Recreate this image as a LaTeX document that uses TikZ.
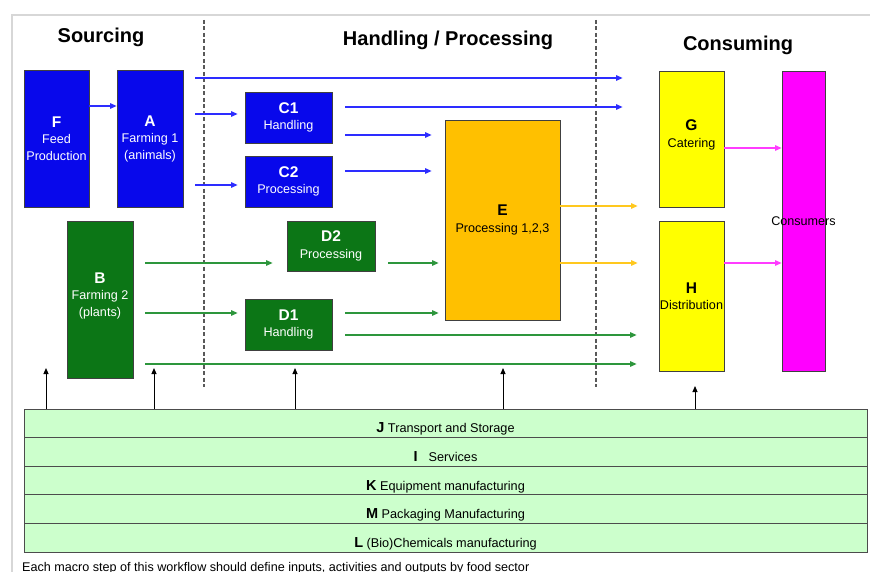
\documentclass[tikz,border=0pt]{standalone}
\usepackage{fontspec}
\setmainfont{Liberation Sans}
\usetikzlibrary{arrows.meta,calc}

\definecolor{boxblue}{RGB}{8,8,235}
\definecolor{boxgreen}{RGB}{12,118,22}
\definecolor{arrblue}{RGB}{45,45,255}
\definecolor{arrgreen}{RGB}{45,150,60}
\definecolor{procorange}{RGB}{255,192,0}
\definecolor{consyellow}{RGB}{255,255,0}
\definecolor{consmag}{RGB}{255,0,255}
\definecolor{arrmag}{RGB}{255,60,255}
\definecolor{arryellow}{RGB}{255,200,30}
\definecolor{bandgreen}{RGB}{204,255,204}
\definecolor{framegray}{RGB}{215,215,215}

\begin{document}
\begin{tikzpicture}[x=1pt,y=-1pt,
  stage/.style={draw=black!75, line width=0.8pt, inner sep=0pt, align=center,
    font=\fontsize{12.6}{16.5}\selectfont},
  bluebox/.style={stage, fill=boxblue, text=white},
  greenbox/.style={stage, fill=boxgreen, text=white},
  band/.style={draw=black!70, line width=0.8pt, fill=bandgreen, inner sep=0pt,
    minimum width=843, minimum height=28.6, text height=19pt, text depth=0pt,
    font=\fontsize{12.7}{12.7}\selectfont},
  title/.style={inner sep=0pt, font=\fontsize{20}{20}\selectfont\bfseries},
  flow/.style={line width=1.1pt, -{Triangle[length=6.5pt,width=5.5pt]}},
  bflow/.style={flow, draw=arrblue, fill=arrblue},
  gflow/.style={flow, draw=arrgreen, fill=arrgreen},
  yflow/.style={flow, draw=arryellow, fill=arryellow},
  mflow/.style={flow, draw=arrmag, fill=arrmag},
  kflow/.style={line width=1pt, draw=black, -{Triangle[length=6pt,width=5pt]}},
  phase/.style={draw=black!65, line width=1.2pt, dash pattern=on 4pt off 2.5pt}
]
\newcommand{\stagelabel}[1]{{\fontsize{15.5}{17}\selectfont\bfseries #1}}
\newcommand{\bandlabel}[1]{{\fontsize{14.5}{14.5}\selectfont\bfseries #1}}

% page and frame
\fill[white] (0,0) rectangle (870,572);
\useasboundingbox (0,0) rectangle (870,572);
\draw[framegray, line width=1.2pt] (12,572) -- (12,15) -- (870,15);

% phase titles
\node[title] (tsrc) at (101,37) {Sourcing};
\node[title] (thp)  at (448,40) {Handling / Processing};
\node[title] (tcon) at (738,45) {Consuming};

% phase separators
\coordinate (s1t) at (204,20);  \coordinate (s1b) at (204,387);
\coordinate (s2t) at (596,20);  \coordinate (s2b) at (596,387);
\draw[phase] (s1t) -- (s1b);
\draw[phase] (s2t) -- (s2b);

% sourcing
\node[bluebox, minimum width=65, minimum height=137] (F) at (56.5,138.5)
  {\stagelabel{F}\\Feed\\Production};
\node[bluebox, minimum width=66, minimum height=137] (A) at (150,138.5)
  {\stagelabel{A}\\Farming 1\\(animals)};
\node[greenbox, minimum width=66, minimum height=157] (B) at (100,299.5)
  {\stagelabel{B}\\Farming 2\\(plants)\\[-6pt]};

% handling / processing
\node[bluebox, minimum width=87, minimum height=51] (C1) at (288.5,117.5)
  {\stagelabel{C1}\\Handling};
\node[bluebox, minimum width=87, minimum height=51] (C2) at (288.5,181.5)
  {\stagelabel{C2}\\Processing};
\node[greenbox, minimum width=88, minimum height=50] (D2) at (331,246)
  {\stagelabel{D2}\\Processing};
\node[greenbox, minimum width=87, minimum height=51] (D1) at (288.5,324.5)
  {\stagelabel{D1}\\Handling};
\node[stage, fill=procorange, minimum width=115, minimum height=200] (E) at (502.5,220)
  {\stagelabel{E}\\Processing 1,2,3};

% consuming
\node[stage, fill=consyellow, minimum width=65, minimum height=136] (G) at (691.5,139)
  {\stagelabel{G}\\Catering\\[-6pt]};
\node[stage, fill=consyellow, minimum width=65, minimum height=150] (H) at (691.5,296)
  {\stagelabel{H}\\Distribution};
\node[stage, fill=consmag, minimum width=43, minimum height=300] (CO) at (803.5,221)
  {\makebox[0pt]{Consumers}};

% supporting sectors
\node[band] (J) at (445.5,423.3) {\bandlabel{J} Transport and Storage};
\node[band] (I) at (445.5,451.9) {\bandlabel{I}\hspace{11pt}Services};
\node[band] (K) at (445.5,480.5) {\bandlabel{K} Equipment manufacturing};
\node[band] (M) at (445.5,509.1) {\bandlabel{M} Packaging Manufacturing};
\node[band] (L) at (445.5,537.7) {\bandlabel{L} (Bio)Chemicals manufacturing};

\node[anchor=base west, inner sep=0pt, font=\fontsize{12.6}{12.6}\selectfont] (note) at (22,571)
  {Each macro step of this workflow should define inputs, activities and outputs by food sector};

% animal chain
\draw[bflow] (F.east |- 0,106) -- (A.west |- 0,106);
\draw[bflow] ([xshift=12pt]A.east |- 0,78) -- ([xshift=-36pt]G.west |- 0,78);
\draw[bflow] ([xshift=12pt]A.east |- 0,114) -- ([xshift=-7pt]C1.west |- 0,114);
\draw[bflow] ([xshift=12pt]A.east |- 0,185) -- ([xshift=-7pt]C2.west |- 0,185);
\draw[bflow] ([xshift=13pt]C1.east |- 0,107) -- ([xshift=-36pt]G.west |- 0,107);
\draw[bflow] ([xshift=13pt]C1.east |- 0,135) -- ([xshift=-13pt]E.west |- 0,135);
\draw[bflow] ([xshift=13pt]C2.east |- 0,171) -- ([xshift=-13pt]E.west |- 0,171);

% plant chain
\draw[gflow] ([xshift=12pt]B.east |- 0,263) -- ([xshift=-14pt]D2.west |- 0,263);
\draw[gflow] ([xshift=13pt]D2.east |- 0,263) -- ([xshift=-6pt]E.west |- 0,263);
\draw[gflow] ([xshift=12pt]B.east |- 0,313) -- ([xshift=-7pt]D1.west |- 0,313);
\draw[gflow] ([xshift=13pt]D1.east |- 0,313) -- ([xshift=-6pt]E.west |- 0,313);
\draw[gflow] ([xshift=13pt]D1.east |- 0,335) -- ([xshift=-22pt]H.west |- 0,335);
\draw[gflow] ([xshift=12pt]B.east |- 0,364) -- ([xshift=-22pt]H.west |- 0,364);

% processing to consumption
\draw[yflow] (E.east |- 0,206) -- ([xshift=-21pt]G.west |- 0,206);
\draw[yflow] (E.east |- 0,263) -- ([xshift=-21pt]H.west |- 0,263);
\draw[mflow] (G.east |- 0,148) -- (CO.west |- 0,148);
\draw[mflow] (H.east |- 0,263) -- (CO.west |- 0,263);

% support inputs
\coordinate (u1) at (46,368);
\coordinate (u2) at (154,368);
\coordinate (u3) at (295,368);
\coordinate (u4) at (503,368);
\coordinate (u5) at (695,386);
\foreach \u in {u1,u2,u3,u4,u5}
  \draw[kflow] (J.north -| \u) -- (\u);
\end{tikzpicture}
\end{document}
